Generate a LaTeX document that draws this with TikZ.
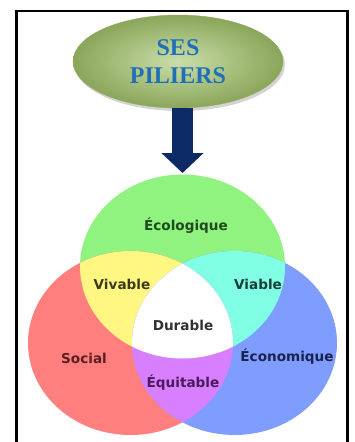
\documentclass[tikz,border=0pt]{standalone}
\usepackage{fontspec}
\newfontfamily\titlefont{Liberation Serif}
\newfontfamily\vennfont{DejaVu Sans}
\usetikzlibrary{arrows.meta,positioning,shapes.geometric,shadows}

\definecolor{eco}{HTML}{90F27F}
\definecolor{soc}{HTML}{FF7F7F}
\definecolor{econ}{HTML}{7F9DFF}
\definecolor{viv}{HTML}{FFF781}
\definecolor{via}{HTML}{80FFE4}
\definecolor{equ}{HTML}{D77FFF}
\definecolor{pilblue}{HTML}{2070B8}
\definecolor{navy}{HTML}{0C2A66}

\tikzset{
  lbl/.style={font=\vennfont\bfseries\fontsize{13.6}{15}\selectfont, inner sep=0pt},
  disk/.style={x radius=102.5pt, y radius=92pt}
}

\begin{document}
\begin{tikzpicture}[x=1pt, y=-1pt, node distance=58pt, on grid]
    \useasboundingbox (0,0) rectangle (355,442);
    \coordinate (cg) at (182.5,266.5);
    \coordinate (cr) at (130.5,343);
    \coordinate (cb) at (234.5,343);
    \coordinate (ecotop) at (182.5,173);

    % the three circles
    \fill[eco] (cg) ellipse [disk];
    \fill[soc] (cr) ellipse [disk];
    \fill[econ] (cb) ellipse [disk];
    \begin{scope}
      \clip (cg) ellipse [disk];
      \fill[viv] (cr) ellipse [disk];
      \fill[via] (cb) ellipse [disk];
    \end{scope}
    \begin{scope}
      \clip (cr) ellipse [disk];
      \fill[equ] (cb) ellipse [disk];
      \clip (cg) ellipse [disk];
      \fill[white] (cb) ellipse [disk];
    \end{scope}

    % frame
    \draw[line width=2.5pt] (16.5,442) -- (16.5,11) -- (347.5,11) -- (347.5,442);

    \node[ellipse, minimum width=210pt, minimum height=93pt, inner sep=0pt,
          inner color={rgb,255:red,202;green,222;blue,168}, outer color={rgb,255:red,138;green,166;blue,90},
          draw={rgb,255:red,150;green,172;blue,100}, line width=.4pt,
          drop shadow={shadow xshift=2pt, shadow yshift=-3pt, opacity=.35},
          font=\titlefont\bfseries\fontsize{24}{28}\selectfont, text=pilblue, align=center]
          (piliers) at (178,61.5) {SES\\PILIERS};

    \draw[navy, line width=21pt, -{Triangle[width=41pt, length=20pt]}]
          (piliers.south -| ecotop) -- (ecotop);

    \node[lbl, text={rgb,255:red,31;green,74;blue,31}] (ecologique) at (186,226) {Écologique};
    \node[lbl, text={rgb,255:red,60;green,58;blue,26}] (vivable) at (122,284) {Vivable};
    \node[lbl, text={rgb,255:red,26;green,60;blue,56}] (viable) at (258,284) {Viable};
    \node[lbl, text={rgb,255:red,50;green,50;blue,50}] (durable) at (183,325) {Durable};
    \node[lbl, text={rgb,255:red,92;green,31;blue,31}] (social) at (84,358) {Social};
    \node[lbl, text={rgb,255:red,26;green,35;blue,80}] (economique) at (287,357) {Économique};
    \node[lbl, text={rgb,255:red,74;green,26;blue,90}] (equitable) [below=of durable] {Équitable};
\end{tikzpicture}
\end{document}
